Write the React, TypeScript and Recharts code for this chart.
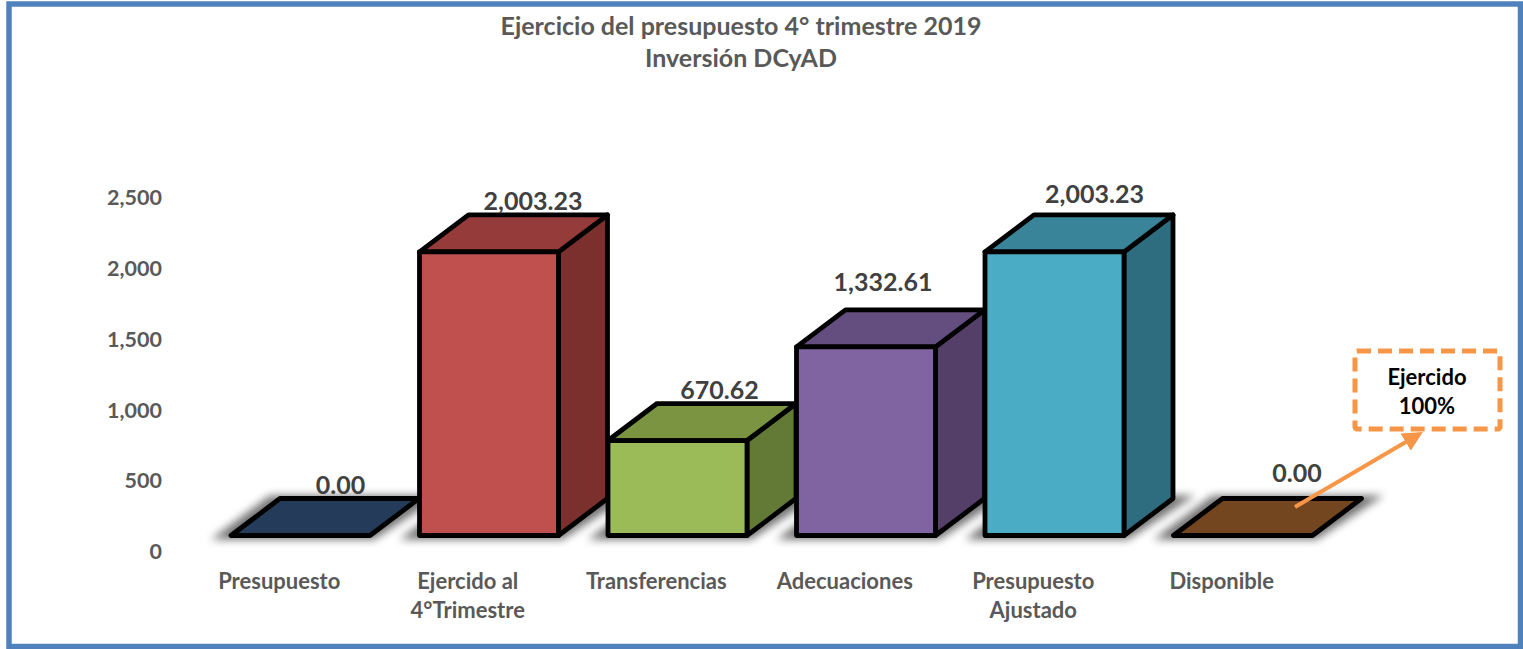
import { Bar, BarChart, LabelList, XAxis, YAxis } from 'recharts'

const categories = ['Presupuesto', 'Ejercido al\n4°Trimestre', 'Transferencias', 'Adecuaciones', 'Presupuesto\nAjustado', 'Disponible']
const values = [0, 2003.23, 670.62, 1332.61, 2003.23, 0]
const yTicks = [0, 500, 1000, 1500, 2000, 2500]

const frontColors = ['#1F497D', '#C0504D', '#9BBB59', '#8064A2', '#4BACC6', '#F79646']
const topColors = ['#243C5A', '#953B39', '#7A9442', '#644E80', '#398499', '#74461F']
const sideColors = ['#1C3557', '#7B302E', '#637A37', '#533F68', '#2E6C80', '#5E3919']

// hand placed in the original, so each value label has its own nudge
const labelNudgeX = [40, 44, 42, 17, 40, 54]
const labelNudgeY = [-51, -51, -51, -65, -58, -63]

const rows = categories.map((name, i) => ({ name, value: values[i] }))

const DEPTH_X = 49
const DEPTH_Y = 37
const FONT = 'Lato, sans-serif'
const money = (v: number) => v.toLocaleString('en-US', { minimumFractionDigits: 2, maximumFractionDigits: 2 })

function Box3D(props: any) {
  const { x, y, width, height, index } = props
  const r = x + width
  const b = y + height
  const edge = { stroke: '#000', strokeWidth: 4.8, strokeLinejoin: 'round' as const }
  return (
    <g>
      <polygon
        points={`${x - 20},${b + 4} ${r + 4},${b + 4} ${r + DEPTH_X + 22},${b - DEPTH_Y - 3} ${x + DEPTH_X - 10},${b - DEPTH_Y - 3}`}
        fill="#000"
        opacity={0.55}
        filter="url(#floorShadow)"
      />
      {height > 0 && (
        <polygon points={`${r},${y} ${r + DEPTH_X},${y - DEPTH_Y} ${r + DEPTH_X},${b - DEPTH_Y} ${r},${b}`} fill={sideColors[index]} {...edge} />
      )}
      <polygon points={`${x},${y} ${r},${y} ${r + DEPTH_X},${y - DEPTH_Y} ${x + DEPTH_X},${y - DEPTH_Y}`} fill={topColors[index]} {...edge} />
      {height > 0 && <rect x={x} y={y} width={width} height={height} fill={frontColors[index]} {...edge} />}
    </g>
  )
}

function CategoryTick({ x, y, payload }: any) {
  const lines = String(payload.value).split('\n')
  return (
    <text x={x - 21} y={y + 45} textAnchor="middle" fontFamily={FONT} fontWeight={700} fontSize={22} fill="#595959">
      {lines.map((line, i) => (
        <tspan key={line} x={x - 21} dy={i === 0 ? 0 : 29}>
          {line}
        </tspan>
      ))}
    </text>
  )
}

function ValueLabel({ x, y, width, value, index }: any) {
  return (
    <text
      x={x + width / 2 + labelNudgeX[index]}
      y={y + labelNudgeY[index] + 9}
      textAnchor="middle"
      fontFamily={FONT}
      fontWeight={700}
      fontSize={25}
      fill="#404040"
    >
      {money(value)}
    </text>
  )
}

function Callout() {
  return (
    <svg width={1523} height={649} style={{ position: 'absolute', left: 0, top: 0, pointerEvents: 'none' }}>
      <defs>
        <marker id="calloutHead" markerWidth="5" markerHeight="5" refX="3" refY="2.5" orient="auto">
          <path d="M0,0 L5,2.5 L0,5 Z" fill="#F79646" />
        </marker>
      </defs>
      <rect x={1355} y={351} width={145} height={78} rx={2} fill="#fff" stroke="#F79646" strokeWidth={5} strokeDasharray="14 7" />
      <text textAnchor="middle" fontFamily={FONT} fontWeight={700} fontSize={22} fill="#000">
        <tspan x={1427} y={385}>Ejercido</tspan>
        <tspan x={1427} y={414}>100%</tspan>
      </text>
      <line x1={1295} y1={507} x2={1416} y2={436} stroke="#F79646" strokeWidth={4} markerEnd="url(#calloutHead)" />
    </svg>
  )
}

export default function App() {
  return (
    <div style={{ position: 'absolute', left: 0, top: 0, width: 1523, height: 649, background: '#fff' }}>
      <BarChart
        width={1523}
        height={649}
        data={rows}
        margin={{ top: 181.5, right: 186, bottom: 53.5, left: 106 }}
      >
        <defs>
          <filter id="floorShadow" x="-30%" y="-60%" width="160%" height="220%">
            <feGaussianBlur stdDeviation="4" />
          </filter>
        </defs>
        <rect x={9} y={4} width={1511.5} height={642.5} fill="none" stroke="#4F81BD" strokeWidth={5.5} />
        <text textAnchor="middle" fontFamily={FONT} fontWeight={700} fontSize={25} fill="#595959">
          <tspan x={741} y={35}>Ejercicio del presupuesto 4° trimestre 2019</tspan>
          <tspan x={741} y={67}>Inversión DCyAD</tspan>
        </text>
        <XAxis
          dataKey="name"
          axisLine={false}
          tickLine={false}
          height={60}
          interval={0}
          tick={<CategoryTick />}
        />
        <YAxis
          width={100}
          domain={[0, 2500]}
          ticks={yTicks}
          axisLine={false}
          tickLine={false}
          tickSize={0}
          tickMargin={44}
          tickFormatter={(v: number) => v.toLocaleString('en-US')}
          tick={{ fontFamily: FONT, fontWeight: 700, fontSize: 21.5, fill: '#595959', dy: 16 }}
        />
        <Bar dataKey="value" barSize={139} shape={<Box3D />} isAnimationActive={false}>
          <LabelList dataKey="value" content={<ValueLabel />} />
        </Bar>
      </BarChart>
      <Callout />
    </div>
  )
}
